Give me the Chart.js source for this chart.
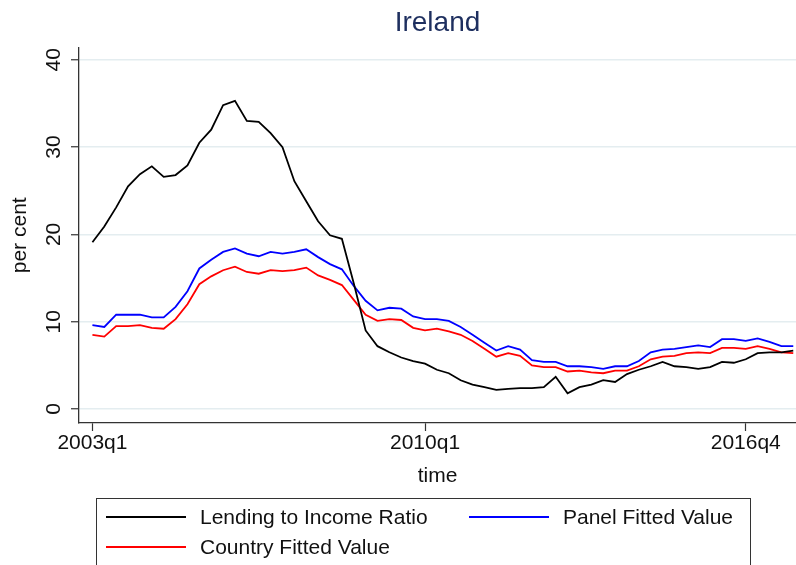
<!DOCTYPE html>
<html>
<head>
<meta charset="utf-8">
<script src="https://cdn.jsdelivr.net/npm/chart.js@4/dist/chart.umd.min.js"></script>
<style>
  body { margin: 0; background: #fff; overflow: hidden; }
  #wrap { position: relative; width: 796px; height: 565px; overflow: hidden; }
  #legend {
    position: absolute; left: 96px; top: 498px; width: 655px; height: 100px;
    box-sizing: border-box; border: 1px solid #333; padding: 3px 0 0 9px;
    display: grid; grid-template-columns: 363px auto; grid-auto-rows: 30px;
    font-family: "Liberation Sans", Arial, sans-serif; font-size: 21px; color: #111;
  }
  .item { display: flex; align-items: center; white-space: nowrap; }
  .swatch { width: 80px; height: 2px; margin-right: 14px; }
</style>
</head>
<body>
<div id="wrap">
  <canvas id="chart" width="796" height="565"></canvas>
  <div id="legend"></div>
</div>
<script>
// quarter labels, index 0 = 2003q1
const quarters = [];
for (let y = 2003; y <= 2017; y++) {
    for (let q = 1; q <= 4; q++) quarters.push(y + "q" + q);
}

const xTickPositions = [0, 28, 55];   // 2003q1, 2010q1, 2016q4
const yTickValues = [0, 10, 20, 30, 40];

const lendingToIncome = [
    19.1, 20.9, 23.1, 25.5, 26.9, 27.8, 26.6, 26.8, 27.9, 30.5,
    32.0, 34.8, 35.3, 33.0, 32.9, 31.6, 30.0, 26.1, 23.8, 21.5,
    19.9, 19.5, 14.4, 9.0, 7.2, 6.5, 5.9, 5.5, 5.2, 4.5,
    4.1, 3.3, 2.8, 2.5, 2.2, 2.3, 2.4, 2.4, 2.5, 3.7,
    1.8, 2.5, 2.8, 3.3, 3.1, 4.0, 4.5, 4.9, 5.4, 4.9,
    4.8, 4.6, 4.8, 5.4, 5.3, 5.7, 6.4, 6.5, 6.5, 6.7
];
const panelFitted = [
    9.6, 9.4, 10.8, 10.8, 10.8, 10.5, 10.5, 11.7, 13.5, 16.1,
    17.1, 18.0, 18.4, 17.8, 17.5, 18.0, 17.8, 18.0, 18.3, 17.4,
    16.6, 16.0, 14.1, 12.4, 11.3, 11.6, 11.5, 10.6, 10.3, 10.3,
    10.1, 9.4, 8.5, 7.6, 6.7, 7.2, 6.8, 5.6, 5.4, 5.4,
    4.9, 4.9, 4.8, 4.6, 4.9, 4.9, 5.5, 6.5, 6.8, 6.9,
    7.1, 7.3, 7.1, 8.0, 8.0, 7.8, 8.1, 7.7, 7.2, 7.2
];
const countryFitted = [
    8.5, 8.3, 9.5, 9.5, 9.6, 9.3, 9.2, 10.3, 12.0, 14.3,
    15.2, 15.9, 16.3, 15.7, 15.5, 15.9, 15.8, 15.9, 16.2, 15.3,
    14.8, 14.2, 12.5, 10.8, 10.1, 10.3, 10.2, 9.3, 9.0, 9.2,
    8.9, 8.5, 7.8, 6.9, 6.0, 6.4, 6.1, 5.0, 4.8, 4.8,
    4.3, 4.4, 4.2, 4.1, 4.4, 4.4, 4.9, 5.7, 6.0, 6.1,
    6.4, 6.5, 6.4, 7.0, 7.0, 6.9, 7.2, 6.9, 6.5, 6.4
];

const FONT = "'Liberation Sans', Arial, sans-serif";
const AXIS = "#333";

function toPoints(values) {
    return values.map((v, i) => ({ x: i, y: v }));
}

function makeSeries(label, values, color) {
    return {
        label: label,
        data: toPoints(values),
        borderColor: color,
        backgroundColor: color,
        borderWidth: 1.8,
        pointRadius: 0,
        tension: 0,
        fill: false
    };
}

const chart = new Chart(document.getElementById("chart"), {
    type: "line",
    data: {
        datasets: [
            makeSeries("Lending to Income Ratio", lendingToIncome, "#000000"),
            makeSeries("Panel Fitted Value", panelFitted, "#0000ff"),
            makeSeries("Country Fitted Value", countryFitted, "#ff0000")
        ]
    },
    options: {
        responsive: false,
        animation: false,
        layout: { padding: { left: 0, right: 0, top: 0, bottom: 72 } },
        plugins: {
            legend: { display: false },
            tooltip: { enabled: false },
            title: {
                display: true,
                text: "Ireland",
                fullSize: false,
                color: "#1e2f5f",
                font: { family: FONT, size: 28, weight: "normal" },
                padding: { top: 6, bottom: 8 }
            }
        },
        scales: {
            x: {
                type: "linear",
                min: -1.13,
                max: 59.23,
                afterBuildTicks: scale => {
                    scale.ticks = xTickPositions.map(v => ({ value: v }));
                },
                afterFit: scale => { scale.height = 70; },
                ticks: {
                    callback: v => quarters[v],
                    color: "#111",
                    font: { family: FONT, size: 21 },
                    padding: 0,
                    maxRotation: 0,
                    autoSkip: false
                },
                grid: { drawOnChartArea: false, drawTicks: true, tickLength: 8, tickColor: AXIS, tickWidth: 1.2 },
                border: { display: true, color: AXIS, width: 1.3 },
                title: {
                    display: true,
                    text: "time",
                    color: "#111",
                    font: { family: FONT, size: 21 },
                    padding: { top: 0, bottom: 4 }
                }
            },
            y: {
                min: -1.6,
                max: 41.4,
                afterBuildTicks: scale => {
                    scale.ticks = yTickValues.map(v => ({ value: v }));
                },
                afterFit: scale => { scale.width = 79; },
                ticks: {
                    color: "#111",
                    font: { family: FONT, size: 21 },
                    minRotation: 90,
                    maxRotation: 90,
                    crossAlign: "center",
                    padding: 5
                },
                grid: { color: "#e4edf0", lineWidth: 1.5, tickLength: 8, tickColor: AXIS, tickWidth: 1.2 },
                border: { display: true, color: AXIS, width: 1.3 },
                title: {
                    display: true,
                    text: "per cent",
                    color: "#111",
                    font: { family: FONT, size: 21 },
                    padding: { top: 8, bottom: 0 }
                }
            }
        }
    }
});

// Stata-style legend box: two columns, filled row by row
const legend = document.getElementById("legend");
chart.data.datasets.forEach(ds => {
    const item = document.createElement("div");
    item.className = "item";
    const swatch = document.createElement("span");
    swatch.className = "swatch";
    swatch.style.background = ds.borderColor;
    const text = document.createElement("span");
    text.textContent = ds.label;
    item.appendChild(swatch);
    item.appendChild(text);
    legend.appendChild(item);
});
</script>
</body>
</html>
